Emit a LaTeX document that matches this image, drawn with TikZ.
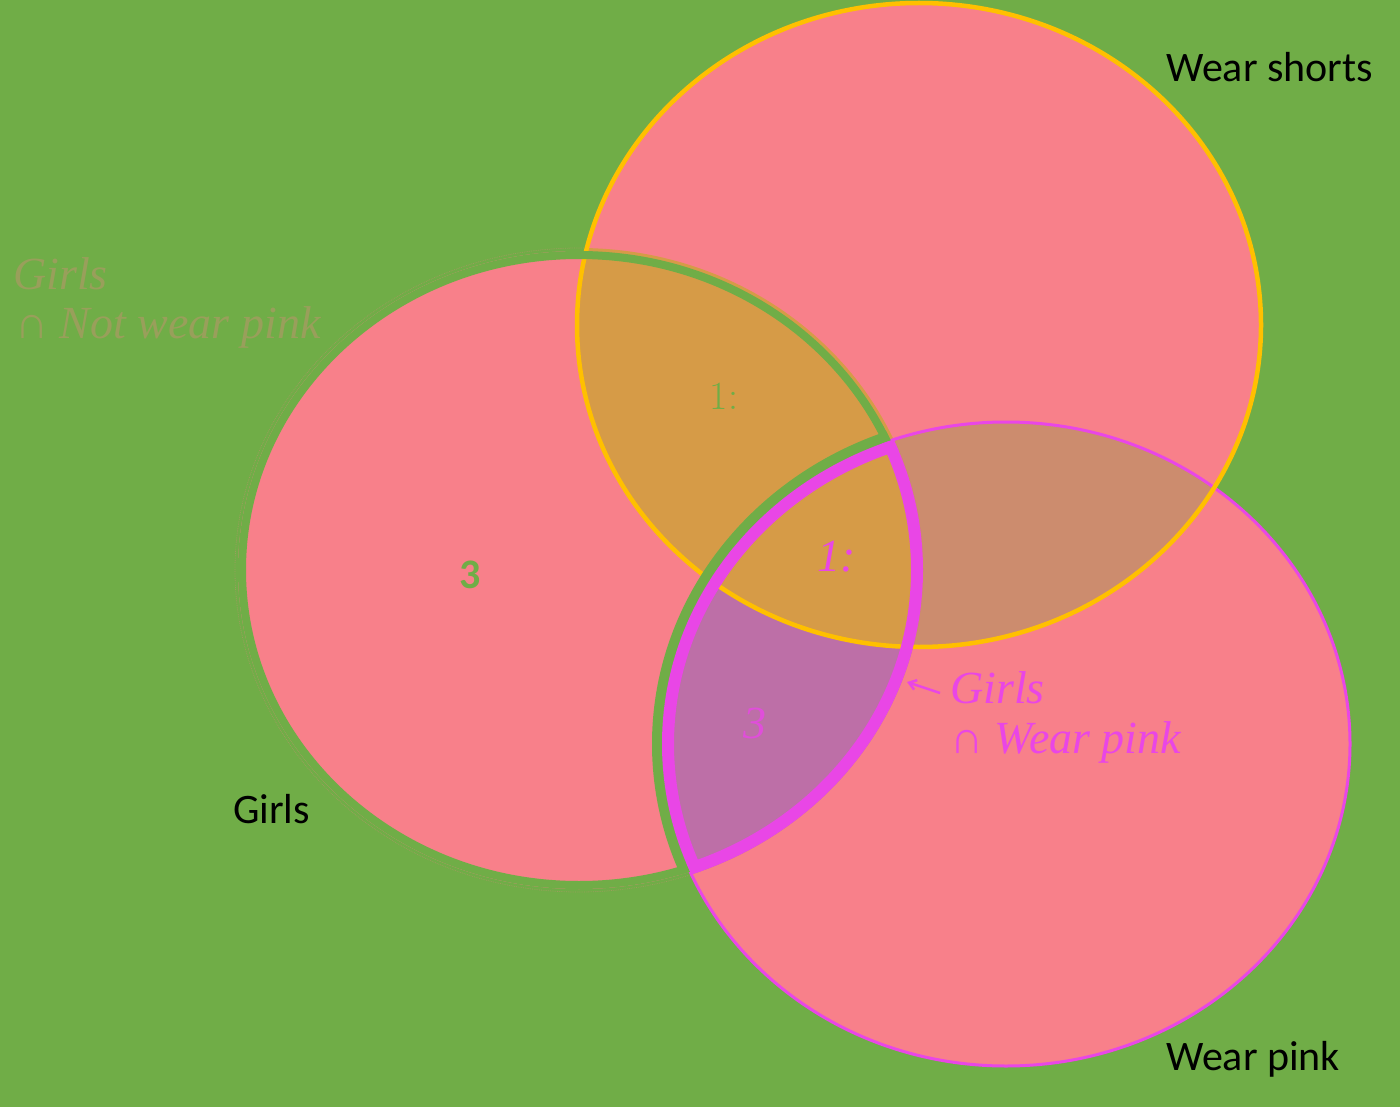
\documentclass[tikz,border=0pt]{standalone}
\usepackage{fontspec}
\newfontfamily\calib{Carlito}
\newfontfamily\tnr{Liberation Serif}
\usetikzlibrary{arrows.meta}
\definecolor{bgc}{HTML}{70AD47}
\definecolor{pinkc}{HTML}{F8808A}
\definecolor{orac}{HTML}{D69B47}
\definecolor{purc}{HTML}{BD6FA7}
\definecolor{magc}{HTML}{E946E6}
\definecolor{yelc}{HTML}{FFC000}
\definecolor{dithc}{HTML}{CC8C6E}
\tikzset{
  setname/.style={inner sep=0pt, anchor=base west, text=black, font=\calib\fontsize{42}{50}\selectfont},
  maglabel/.style={inner sep=0pt, anchor=base west, text=magc, font=\tnr\itshape\fontsize{46}{50}\selectfont},
  fadelabel/.style={inner sep=0pt, anchor=base west, text=pinkc!30!bgc, font=\tnr\itshape\fontsize{46}{50}\selectfont},
  count/.style={inner sep=0pt, anchor=center}
}
\begin{document}
\begin{tikzpicture}[x=1pt,y=-1pt]
\def\Gpath{(579,570) ellipse [x radius=344pt, y radius=322pt]}
\def\Ginner{(579,570) ellipse [x radius=341pt, y radius=319pt]}
\def\Spath{(919,325) ellipse [x radius=342pt, y radius=322pt]}
\def\Ppath{(1006,744) ellipse [x radius=344pt, y radius=322pt]}
\useasboundingbox (0,0) rectangle (1400,1107);
\fill[bgc] (0,0) rectangle (1400,1107);
% faint outer edge of Girls
\draw[pinkc!30!bgc, line width=0.8pt, densely dotted] \Gpath;
% base fills
\fill[pinkc] \Spath;
\fill[pinkc] \Ppath;
\fill[pinkc] \Ginner;
% Wear shorts and Wear pink overlap
\begin{scope}\clip \Spath; \fill[dithc] \Ppath; \end{scope}
% Girls and Wear pink
\begin{scope}\clip \Gpath; \fill[purc] \Ppath; \end{scope}
% Girls and Wear shorts
\begin{scope}\clip \Gpath; \fill[orac] \Spath; \end{scope}
% outlines
\draw[magc, line width=3pt] \Ppath;
\draw[yelc, line width=4.5pt] \Spath;
% green band: Girls not wear pink
\begin{scope}
  \clip \Ginner;
  \draw[bgc, line width=22pt] \Gpath;
  \draw[bgc, line width=20pt] \Ppath;
\end{scope}
% magenta band: Girls and wear pink
\begin{scope}
  \clip \Gpath; \clip \Ppath;
  \draw[magc, line width=24pt] \Gpath;
  \draw[magc, line width=24pt] \Ppath;
\end{scope}
% set names
\node[setname] (ws) at (1166,82) {Wear shorts};
\node[setname] (wp) at (1166,1070) {Wear pink};
\node[setname] (gl) at (233,823) {Girls};
% counts
\node[count, text=bgc, font=\calib\bfseries\fontsize{42}{48}\selectfont] (c3) at (470,575) {3};
\node[count, text=bgc, font=\fontsize{40}{46}\selectfont] (c1) at (724,396) {1:};
\node[count, text=magc, font=\tnr\itshape\fontsize{46}{50}\selectfont] (m1) at (837,557) {1:};
\node[count, text=magc!80!purc, font=\tnr\itshape\fontsize{46}{50}\selectfont] (m3) at (755,723) {3};
% labels
\node[maglabel] (lg1) at (950,703) {Girls};
\node[maglabel] (lg2) at (950,753) {∩ Wear pink};
\node[fadelabel] (fg1) at (13,290) {Girls};
\node[fadelabel] (fg2) at (15,338) {∩ Not wear pink};
% arrow
\coordinate (atail) at (940,693);
\coordinate (ahead) at (907,682);
\draw[magc, line width=2.5pt, -{Straight Barb[length=7pt,width=10pt]}] (atail) -- (ahead);
\end{tikzpicture}
\end{document}
